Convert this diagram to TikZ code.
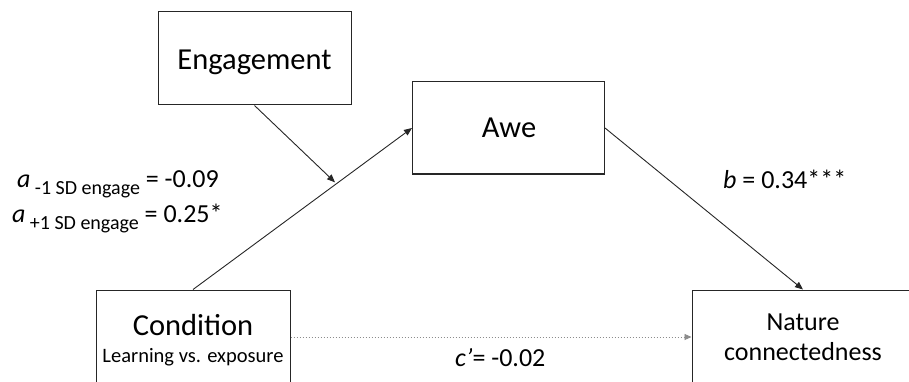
\documentclass[tikz,border=0pt]{standalone}
\usepackage{fontspec}
\setmainfont{Carlito}
\usetikzlibrary{arrows.meta}

\tikzset{
  box/.style={draw=black!85, line width=1pt, inner sep=0pt},
  title/.style={inner sep=0pt, anchor=base, font=\fontsize{30.5}{33}\selectfont},
  path/.style={draw=black!85, line width=0.9pt, -{Triangle[length=8pt,width=6.5pt]}},
  direct/.style={draw=black!45, line width=0.9pt, dash pattern=on 1.6pt off 1.4pt,
    -{Triangle[length=7pt,width=6pt]}},
  coef/.style={inner sep=0pt, anchor=base west, font=\fontsize{26}{30}\selectfont},
}
\newcommand{\subsd}[1]{\raisebox{-7pt}{\fontsize{20}{22}\selectfont #1}}

\begin{document}
\begin{tikzpicture}[x=1pt, y=-1pt]
  \useasboundingbox (0,0) rectangle (909,382);
  \clip (0,0) rectangle (909,382);

  % variable boxes
  \node[box, minimum width=193pt, minimum height=93pt] (eng) at (254.5,58.5) {};
  \node[box, minimum width=192pt, minimum height=92pt] (awe) at (508.5,128) {};
  \node[box, minimum width=194pt, minimum height=94pt] (cond) at (193,337) {};
  \node[box, minimum width=222pt, minimum height=94pt] (nat) at (803,337) {};

  % box labels
  \node[title] (engt) at (254.5,70) {Engagement};
  \node[title] (awet) at (509,138) {Awe};
  \node[title] (condt) at (193,335) {Condition};
  \node[title, font=\fontsize{20.5}{24}\selectfont] (condsub) at (193,362)
        {Learning vs. exposure};
  \node[title, font=\fontsize{26}{29}\selectfont] (natt1) at (803,330) {Nature};
  \node[title, font=\fontsize{26}{29}\selectfont] (natt2) at (803,360) {connectedness};

  % paths
  \draw[path] (cond.north) -- coordinate[pos=0.655] (mod) (awe.west);
  \draw[path, shorten >=2pt] (eng.south) -- (mod);
  \draw[path] (awe.east) -- (nat.north);
  \draw[direct] (cond.east) -- (nat.west);

  % coefficients
  \node[coef] (a1) at (17,187) {\textit{a}\,\subsd{-1 SD engage} = -0.09};
  \node[coef] (a2) at (12,222) {\textit{a}\,\subsd{+1 SD engage} = 0.25*};
  \node[coef] (bcoef) at (723,188) {\textit{b} = 0.34***};
  \node[coef] (ccoef) at (455,366) {\textit{c’}= -0.02};
\end{tikzpicture}
\end{document}
